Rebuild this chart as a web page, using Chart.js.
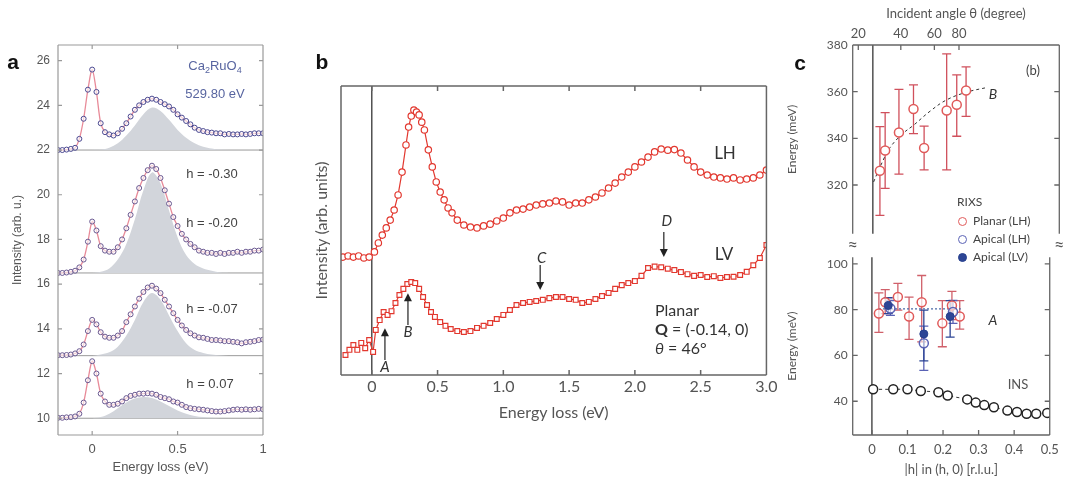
<!DOCTYPE html>
<html><head><meta charset="utf-8">
<script src="https://cdn.jsdelivr.net/npm/chart.js@4.4.1/dist/chart.umd.min.js"></script>
<style>
body{margin:0;background:#fff;width:1066px;height:487px;position:relative;overflow:hidden;font-family:"Liberation Sans",Arial,sans-serif}
.box{position:absolute}
.t{position:absolute;white-space:nowrap;line-height:1;transform:translate(-50%,-50%)}
.l{transform:translate(0,-50%)}
.lato{font-family:Lato,"Open Sans",sans-serif}
.mk{display:inline-block;width:7px;height:7px;border-radius:50%;border:1.5px solid;vertical-align:middle;margin-right:6px}
</style></head><body>
<div class="box" style="left:0;top:0;width:280px;height:487px"><canvas id="chartA"></canvas></div>
<div class="box" style="left:300px;top:0;width:480px;height:487px"><canvas id="chartB"></canvas></div>
<div class="box" style="left:780px;top:0;width:286px;height:246px"><canvas id="chartC1"></canvas></div>
<div class="box" style="left:780px;top:245px;width:286px;height:242px"><canvas id="chartC2"></canvas></div>
<div id="labels"></div>
<script>
// ---------- panel a: RIXS spectra, offset ----------
const energyA = [-0.2,-0.175,-0.15,-0.125,-0.1,-0.075,-0.05,-0.025,0,0.025,0.05,0.075,0.1,0.125,0.15,0.175,0.2,0.225,0.25,0.275,0.3,0.325,0.35,0.375,0.4,0.425,0.45,0.475,0.5,0.525,0.55,0.575,0.6,0.625,0.65,0.675,0.7,0.725,0.75,0.775,0.8,0.825,0.85,0.875,0.9,0.925,0.95,0.975,1.0];
const specTop = [22.0,22.0,22.02,22.05,22.1,22.5,23.4,24.7,25.6,24.6,23.2,22.8,22.7,22.65,22.75,22.95,23.2,23.5,23.8,24.0,24.15,24.25,24.3,24.25,24.15,24.05,23.95,23.8,23.6,23.45,23.3,23.15,23.0,22.9,22.85,22.8,22.78,22.75,22.75,22.7,22.72,22.7,22.7,22.72,22.7,22.72,22.75,22.75,22.75];
const specH020 = [16.5,16.5,16.52,16.55,16.6,16.75,17.1,17.9,18.8,18.4,17.7,17.5,17.45,17.45,17.65,18.0,18.5,19.1,19.7,20.3,20.75,21.1,21.3,21.15,20.75,20.2,19.6,19.0,18.6,18.25,18.0,17.8,17.65,17.5,17.45,17.4,17.4,17.35,17.4,17.35,17.4,17.4,17.45,17.4,17.45,17.45,17.5,17.5,17.55];
const specH007n = [12.82,12.82,12.83,12.85,12.9,13.0,13.3,13.9,14.4,14.2,13.85,13.65,13.6,13.6,13.7,13.9,14.3,14.65,15.0,15.35,15.65,15.85,15.93,15.8,15.6,15.3,15.0,14.7,14.4,14.15,13.95,13.8,13.7,13.62,13.6,13.55,13.5,13.5,13.48,13.45,13.45,13.42,13.4,13.35,13.4,13.42,13.45,13.5,13.52];
const specH007 = [10.02,10.02,10.04,10.05,10.08,10.2,10.7,11.7,12.55,12.0,11.1,10.75,10.6,10.6,10.65,10.75,10.9,11.0,11.05,11.1,11.1,11.12,11.1,11.05,10.95,10.9,10.85,10.75,10.7,10.6,10.5,10.45,10.42,10.4,10.38,10.35,10.32,10.3,10.3,10.32,10.35,10.38,10.4,10.38,10.4,10.38,10.4,10.42,10.4];
const fillEnergyA = [0,0.05,0.1,0.15,0.2,0.25,0.3,0.35,0.4,0.45,0.5,0.55,0.6,0.65,0.7,0.75,0.8];
const fillTop = [22.0,22.02,22.1,22.3,22.65,23.1,23.6,23.9,23.75,23.35,22.9,22.55,22.3,22.15,22.07,22.02,22.0];
const fillH020 = [16.5,16.55,16.7,17.1,17.8,18.9,20.2,21.0,20.5,19.3,18.1,17.3,16.9,16.7,16.6,16.52,16.5];
const fillH007n = [12.8,12.85,12.95,13.2,13.7,14.4,15.2,15.6,15.3,14.6,13.9,13.35,13.05,12.92,12.85,12.82,12.8];
const fillH007 = [10.0,10.05,10.2,10.45,10.7,10.88,10.95,10.9,10.75,10.55,10.35,10.2,10.1,10.05,10.02,10.0,10.0];
const baselinesA = [22, 16.5, 12.8, 10];
const yTicksA = [10,12,14,16,18,20,22,24,26];
const xTicksA = [0, 0.5, 1];
const xTickLabelsA = ['0','0.5','1'];

// ---------- panel b: LH / LV spectra ----------
const energyLH = [-0.22,-0.18,-0.14,-0.10,-0.06,-0.02,0.02,0.05,0.08,0.11,0.14,0.17,0.20,0.23,0.26,0.28,0.30,0.32,0.34,0.36,0.38,0.40,0.43,0.46,0.49,0.52,0.55,0.58,0.61,0.65,0.70,0.75,0.80,0.85,0.90,0.95,1.00,1.05,1.10,1.15,1.20,1.25,1.30,1.35,1.40,1.45,1.50,1.55,1.60,1.65,1.70,1.75,1.80,1.85,1.90,1.95,2.00,2.05,2.10,2.15,2.20,2.25,2.30,2.35,2.40,2.45,2.50,2.55,2.60,2.65,2.70,2.75,2.80,2.85,2.90,2.95,3.00];
const intensityLH = [40.8,41.2,40.8,41.2,40.5,40.8,42.6,45.7,48.4,50.9,53.6,57.1,62.3,70.2,79.6,85.8,89.6,91.7,91.0,90.0,87.5,84.8,77.9,72.0,66.8,63.3,60.6,57.8,56.1,53.6,51.9,51.2,50.9,51.6,52.2,53.3,54.3,56.1,57.1,57.4,58.1,58.8,59.2,59.5,60.2,59.9,58.8,59.5,59.5,60.6,61.6,63.0,64.7,66.4,68.5,70.2,72.0,73.7,75.4,77.2,78.2,77.8,78.0,76.8,74.4,72.0,70.2,69.2,68.5,68.2,67.8,68.2,67.5,67.8,68.2,69.2,70.9];
const energyLV = [-0.20,-0.17,-0.14,-0.11,-0.08,-0.05,-0.02,0.01,0.03,0.06,0.09,0.12,0.15,0.18,0.21,0.24,0.27,0.30,0.33,0.36,0.39,0.42,0.45,0.48,0.52,0.56,0.60,0.65,0.70,0.75,0.80,0.85,0.90,0.95,1.00,1.05,1.10,1.15,1.20,1.25,1.30,1.35,1.40,1.45,1.50,1.55,1.60,1.65,1.70,1.75,1.80,1.85,1.90,1.95,2.00,2.05,2.10,2.15,2.20,2.25,2.30,2.35,2.40,2.45,2.50,2.55,2.60,2.65,2.70,2.75,2.80,2.85,2.90,2.95,3.00];
const intensityLV = [6.9,8.7,10.4,8.7,11.1,9.3,12.1,8.0,15.6,19.0,21.8,20.8,22.1,24.9,27.7,29.8,31.5,32.2,31.8,29.8,27.0,24.2,21.8,20.1,18.3,17.0,15.9,15.2,14.9,15.2,16.3,17.0,18.0,19.4,20.8,22.5,24.2,24.9,25.3,25.6,26.0,26.6,27.0,27.0,26.3,26.0,24.9,25.3,26.3,27.3,28.4,29.8,31.1,31.8,32.5,34.3,37.0,37.5,37.3,36.8,36.3,35.6,34.9,34.3,34.6,33.9,34.2,33.6,33.9,34.0,34.6,35.7,38.0,40.5,45.0];
const xTicksB = [0,0.5,1,1.5,2,2.5,3];
const xTickLabelsB = ['0','0.5','1.0','1.5','2.0','2.5','3.0'];
const arrowsB = [
  {x: 0.1, from: 5.2, to: 16.2},
  {x: 0.275, from: 17.3, to: 28.3},
  {x: 1.28, from: 38.1, to: 29.4},
  {x: 2.22, from: 49.5, to: 40.8}
];

// ---------- panel c: dispersion ----------
const hB = [0.019,0.033,0.07,0.109,0.1375,0.198,0.225,0.25];
const energyB = [326.1,334.8,342.5,352.6,335.9,351.9,354.4,360.5];
const energyBLo = [307,318.6,324.7,342,326.5,326.5,340.9,349.4];
const energyBHi = [345,351,361,362.9,345.2,376.2,367.2,370.6];
const hFitB = [0.002,0.02,0.046,0.08,0.109,0.154,0.198,0.252,0.306];
const energyFitB = [321.3,328,336,342,345.6,351.7,356.5,359.8,361.8];

const hPlanarA = [0.0196,0.0375,0.073,0.1045,0.14,0.198,0.225,0.247];
const energyPlanarA = [78.3,83.2,85.5,77.0,83.2,74.0,81.8,77.0];
const energyPlanarALo = [70.1,78.3,79.8,67.0,65.9,63.8,75.6,71.5];
const energyPlanarAHi = [87.3,88.7,91.5,85.5,94.9,83.9,88.0,83.9];
const hApicalLV = [0.046,0.146,0.22];
const energyApicalLV = [81.8,69.4,77.0];
const energyApicalLVLo = [78.3,57.6,68.0];
const energyApicalLVHi = [85.2,79.8,83.9];
const hApicalLH = [0.052,0.146,0.228];
const energyApicalLH = [80.5,65.3,79.0];
const energyApicalLHLo = [77.5,53.5,74.0];
const energyApicalLHHi = [84.0,72.8,84.0];
const hFitA = [0.02,0.25];
const energyFitA = [80.3,80.3];
const hINS = [0.0035,0.06,0.1,0.1375,0.187,0.213,0.268,0.292,0.316,0.343,0.381,0.408,0.435,0.462,0.493];
const energyINS = [45.2,45.2,45.2,44.5,43.9,42.5,40.8,39.4,38.3,37.4,35.9,35.3,34.5,34.5,34.9];

const yTicksCUp = [320,340,360,380];
const yTicksCLow = [40,60,80,100];
const xTicksC = [0,0.1,0.2,0.3,0.4,0.5];
const angleTickPos = [-0.039,0.075,0.165,0.231];
const angleTickLabels = ['20','40','60','80'];

const toXY = (xs, ys) => xs.map((x, i) => ({x, y: ys[i]}));
const setTicks = vals => s => { s.ticks = vals.map(v => ({value: v})); };
const fixSize = n => s => { if (s.isHorizontal()) s.height = n; else s.width = n; };

// frame, inward ticks, baselines, zero line, error bars and arrows
const framePlugin = {
  id: 'frame',
  beforeDatasetsDraw(chart, args, o) {
    const {ctx, chartArea: a, scales} = chart;
    ctx.save();
    (o.hLines || []).forEach(v => {
      const py = scales.y.getPixelForValue(v);
      ctx.strokeStyle = o.hLineColor; ctx.lineWidth = 1;
      ctx.beginPath(); ctx.moveTo(a.left, py); ctx.lineTo(a.right, py); ctx.stroke();
    });
    if (o.zeroLine) {
      const px = scales.x.getPixelForValue(0);
      ctx.strokeStyle = o.zeroLine; ctx.lineWidth = 1.4;
      ctx.beginPath(); ctx.moveTo(px, a.top); ctx.lineTo(px, a.bottom); ctx.stroke();
    }
    chart.data.datasets.forEach(ds => {
      if (!ds.errLo) return;
      ctx.strokeStyle = ds.errColor; ctx.lineWidth = 1.3;
      ds.data.forEach((p, j) => {
        const px = scales.x.getPixelForValue(p.x);
        const lo = scales.y.getPixelForValue(ds.errLo[j]);
        const hi = scales.y.getPixelForValue(ds.errHi[j]);
        ctx.beginPath();
        ctx.moveTo(px, lo); ctx.lineTo(px, hi);
        ctx.moveTo(px - 4.5, lo); ctx.lineTo(px + 4.5, lo);
        ctx.moveTo(px - 4.5, hi); ctx.lineTo(px + 4.5, hi);
        ctx.stroke();
      });
    });
    ctx.restore();
  },
  afterDraw(chart, args, o) {
    const {ctx, chartArea: a, scales} = chart;
    ctx.save();
    ctx.strokeStyle = o.color; ctx.lineWidth = o.width;
    const s = o.sides;
    ctx.beginPath();
    if (s.includes('t')) { ctx.moveTo(a.left, a.top); ctx.lineTo(a.right, a.top); }
    if (s.includes('b')) { ctx.moveTo(a.left, a.bottom); ctx.lineTo(a.right, a.bottom); }
    if (s.includes('l')) { ctx.moveTo(a.left, a.top); ctx.lineTo(a.left, a.bottom); }
    if (s.includes('r')) { ctx.moveTo(a.right, a.top); ctx.lineTo(a.right, a.bottom); }
    const len = o.tickLen;
    scales.x.ticks.forEach(t => {
      const px = scales.x.getPixelForValue(t.value);
      if (o.xTicks.includes('b')) { ctx.moveTo(px, a.bottom); ctx.lineTo(px, a.bottom - len); }
      if (o.xTicks.includes('t')) { ctx.moveTo(px, a.top); ctx.lineTo(px, a.top + len); }
    });
    scales.y.ticks.forEach(t => {
      const py = scales.y.getPixelForValue(t.value);
      if (o.yTicks.includes('l')) { ctx.moveTo(a.left, py); ctx.lineTo(a.left + len, py); }
      if (o.yTicks.includes('r')) { ctx.moveTo(a.right, py); ctx.lineTo(a.right - len, py); }
    });
    ctx.stroke();
    (o.arrows || []).forEach(ar => {
      const px = scales.x.getPixelForValue(ar.x);
      const p0 = scales.y.getPixelForValue(ar.from);
      const p1 = scales.y.getPixelForValue(ar.to);
      const dir = p1 < p0 ? -1 : 1;
      ctx.strokeStyle = '#222'; ctx.fillStyle = '#222'; ctx.lineWidth = 1.2;
      ctx.beginPath(); ctx.moveTo(px, p0); ctx.lineTo(px, p1 - dir * 6); ctx.stroke();
      ctx.beginPath(); ctx.moveTo(px, p1); ctx.lineTo(px - 4, p1 - dir * 8); ctx.lineTo(px + 4, p1 - dir * 8); ctx.closePath(); ctx.fill();
    });
    ctx.restore();
  }
};

Chart.defaults.animation = false;
Chart.defaults.plugins.legend.display = false;
Chart.defaults.plugins.tooltip.enabled = false;

// panel a
const specsA = [specTop, specH020, specH007n, specH007];
const fillsA = [fillTop, fillH020, fillH007n, fillH007];
const dsA = [];
specsA.forEach((sp, k) => {
  dsA.push({data: toXY(energyA, sp), borderColor: '#e88a98', borderWidth: 1.3, tension: 0.3,
    pointRadius: 2.5, pointBorderWidth: 1, pointBorderColor: k === 0 ? '#4b4890' : '#6a5890',
    pointBackgroundColor: 'rgba(255,255,255,0.6)', order: 1});
  dsA.push({data: toXY(fillEnergyA, fillsA[k]), borderWidth: 0, pointRadius: 0, tension: 0.35,
    fill: {value: baselinesA[k]}, backgroundColor: '#d2d5db', order: 2});
});
const fontA = {family: '"Liberation Sans", Arial, sans-serif', size: 12};
new Chart(document.getElementById('chartA'), {
  type: 'line',
  data: {datasets: dsA},
  options: {
    responsive: true, maintainAspectRatio: false,
    layout: {padding: {left: 0, right: 17, top: 45, bottom: 12}},
    scales: {
      x: {type: 'linear', min: -0.2, max: 1, afterBuildTicks: setTicks(xTicksA), afterFit: fixSize(40),
        grid: {display: false, drawTicks: false}, border: {display: false},
        ticks: {padding: 7, color: '#555', font: {...fontA, size: 13}, callback: (v, i) => xTickLabelsA[i]},
        title: {display: true, text: 'Energy loss (eV)', color: '#555', font: {...fontA, size: 13}, padding: 0}},
      y: {min: 9.25, max: 26.7, afterBuildTicks: setTicks(yTicksA), afterFit: fixSize(58),
        grid: {display: false, drawTicks: false}, border: {display: false},
        ticks: {padding: 8, color: '#555', font: fontA},
        title: {display: true, text: 'Intensity (arb. u.)', color: '#555', font: fontA, padding: {top: 10, bottom: 0}}}
    },
    plugins: {frame: {color: '#9a9a9a', width: 1.2, sides: 'tblr', tickLen: 4, xTicks: 'tb', yTicks: 'lr',
      hLines: baselinesA, hLineColor: '#999'}}
  },
  plugins: [framePlugin]
});

// panel b
const fontB = {family: 'Lato, "Open Sans", sans-serif', size: 16};
new Chart(document.getElementById('chartB'), {
  type: 'line',
  data: {datasets: [
    {data: toXY(energyLH, intensityLH), borderColor: '#e2382f', borderWidth: 1.2, pointRadius: 3.2,
      pointBorderWidth: 1.2, pointBackgroundColor: '#fff', pointBorderColor: '#e2382f'},
    {data: toXY(energyLV, intensityLV), borderColor: '#e2382f', borderWidth: 1.2, pointRadius: 3.4, pointStyle: 'rect',
      pointBorderWidth: 1.2, pointBackgroundColor: '#fff', pointBorderColor: '#e2382f'}
  ]},
  options: {
    responsive: true, maintainAspectRatio: false,
    layout: {padding: {left: 12.4, right: 10, top: 86, bottom: 64.4}},
    scales: {
      x: {type: 'linear', min: -0.234, max: 3.0, afterBuildTicks: setTicks(xTicksB), afterFit: fixSize(47.6),
        grid: {display: false, drawTicks: false}, border: {display: false},
        ticks: {padding: 2.4, color: '#555', font: fontB, callback: (v, i) => xTickLabelsB[i]},
        title: {display: true, text: 'Energy loss (eV)', color: '#555', font: fontB, padding: 0}},
      y: {min: 0, max: 100, afterFit: fixSize(28.6),
        grid: {display: false, drawTicks: false}, border: {display: false},
        ticks: {display: false},
        title: {display: true, text: 'Intensity (arb. units)', color: '#555', font: fontB, padding: 0}}
    },
    plugins: {frame: {color: '#666', width: 1.5, sides: 'tblr', tickLen: 5, xTicks: 'tb', yTicks: '',
      zeroLine: '#444', arrows: arrowsB}}
  },
  plugins: [framePlugin]
});

// panel c, upper part (mode B)
const fontC = {family: 'Lato, "Open Sans", sans-serif', size: 13};
new Chart(document.getElementById('chartC1'), {
  type: 'line',
  data: {datasets: [
    {data: toXY(hB, energyB), showLine: false, pointRadius: 4.5, pointBorderWidth: 1.5,
      pointBorderColor: '#e05a5a', pointBackgroundColor: '#fff',
      errLo: energyBLo, errHi: energyBHi, errColor: '#d0505c', order: 1},
    {data: toXY(hFitB, energyFitB), borderColor: '#333', borderWidth: 1, borderDash: [3, 3], pointRadius: 0,
      tension: 0.4, order: 2}
  ]},
  options: {
    responsive: true, maintainAspectRatio: false,
    layout: {padding: {left: 0, right: 6.7, top: 0, bottom: 1}},
    scales: {
      x: {type: 'linear', position: 'top', min: -0.054, max: 0.5, afterBuildTicks: setTicks(angleTickPos), afterFit: fixSize(45),
        grid: {display: false, drawTicks: false}, border: {display: false},
        ticks: {padding: 3.5, color: '#555', font: fontC, callback: (v, i) => angleTickLabels[i]},
        title: {display: true, text: 'Incident angle θ (degree)', color: '#555', font: fontC, padding: {top: 6.2, bottom: 0}}},
      y: {min: 299.1, max: 380, afterBuildTicks: setTicks(yTicksCUp), afterFit: fixSize(72.7),
        grid: {display: false, drawTicks: false}, border: {display: false},
        ticks: {padding: 5, color: '#555', font: {...fontC, size: 12}},
        title: {display: true, text: 'Energy (meV)', color: '#555', font: {...fontC, size: 12}, padding: {top: 4.8, bottom: 0}}}
    },
    plugins: {frame: {color: '#666', width: 1.3, sides: 'tlr', tickLen: 5, xTicks: 't', yTicks: 'lr', zeroLine: '#444'}}
  },
  plugins: [framePlugin]
});

// panel c, lower part (mode A and INS)
new Chart(document.getElementById('chartC2'), {
  type: 'line',
  data: {datasets: [
    {data: toXY(hPlanarA, energyPlanarA), showLine: false, pointRadius: 4.5, pointBorderWidth: 1.5,
      pointBorderColor: '#e05a5a', pointBackgroundColor: 'rgba(255,255,255,0.7)',
      errLo: energyPlanarALo, errHi: energyPlanarAHi, errColor: '#d0606a', order: 2},
    {data: toXY(hApicalLH, energyApicalLH), showLine: false, pointRadius: 4.5, pointBorderWidth: 1.5,
      pointBorderColor: '#5a62b5', pointBackgroundColor: 'rgba(255,255,255,0.6)',
      errLo: energyApicalLHLo, errHi: energyApicalLHHi, errColor: '#5a62b5', order: 1},
    {data: toXY(hApicalLV, energyApicalLV), showLine: false, pointRadius: 4, pointBorderWidth: 1,
      pointBorderColor: '#263f8e', pointBackgroundColor: '#2d4595',
      errLo: energyApicalLVLo, errHi: energyApicalLVHi, errColor: '#2d4595', order: 0},
    {data: toXY(hFitA, energyFitA), borderColor: '#4a6aa8', borderWidth: 1.2, borderDash: [2, 2], pointRadius: 0, order: 3},
    {data: toXY(hINS, energyINS), borderColor: '#333', borderWidth: 1, borderDash: [3, 3], tension: 0.3,
      pointRadius: 4.5, pointBorderWidth: 1.5, pointBorderColor: '#222', pointBackgroundColor: '#fff', order: 4}
  ]},
  options: {
    responsive: true, maintainAspectRatio: false,
    layout: {padding: {left: 0, right: 6.7, top: 2, bottom: 9.2}},
    scales: {
      x: {type: 'linear', min: -0.054, max: 0.5, afterBuildTicks: setTicks(xTicksC), afterFit: fixSize(42.8),
        grid: {display: false, drawTicks: false}, border: {display: false},
        ticks: {padding: 7.2, color: '#555', font: fontC},
        title: {display: true, text: '|h| in (h, 0) [r.l.u.]', color: '#555', font: fontC, padding: 0}},
      y: {min: 25.25, max: 102.9, afterBuildTicks: setTicks(yTicksCLow), afterFit: fixSize(72.7),
        grid: {display: false, drawTicks: false}, border: {display: false},
        ticks: {padding: 5, color: '#555', font: {...fontC, size: 12}},
        title: {display: true, text: 'Energy (meV)', color: '#555', font: {...fontC, size: 12}, padding: {top: 4.8, bottom: 0}}}
    },
    plugins: {frame: {color: '#666', width: 1.3, sides: 'blr', tickLen: 5, xTicks: 'b', yTicks: 'lr', zeroLine: '#444'}}
  },
  plugins: [framePlugin]
});

// text annotations
const labels = [
  ['a', 13, 62, 'font:bold 21px Arial,sans-serif;color:#111'],
  ['b', 322, 62, 'font:bold 21px Arial,sans-serif;color:#111'],
  ['c', 800, 63, 'font:bold 21px Arial,sans-serif;color:#111'],
  ['Ca<sub style="font-size:9px">2</sub>RuO<sub style="font-size:9px">4</sub>', 215, 67, 'font-size:13px;color:#5865a0'],
  ['529.80 eV', 215, 93, 'font-size:13px;color:#5865a0'],
  ['h = -0.30', 212, 173, 'font-size:13px;color:#444'],
  ['h = -0.20', 212, 222, 'font-size:13px;color:#444'],
  ['h = -0.07', 212, 308, 'font-size:13px;color:#444'],
  ['h = 0.07', 210, 383, 'font-size:13px;color:#444'],
  ['LH', 725, 152, 'font-size:17px;color:#333', 'lato'],
  ['LV', 724, 253, 'font-size:17px;color:#333', 'lato'],
  ['A', 385, 366, 'font-size:15px;font-style:italic;color:#333', 'lato'],
  ['B', 408, 331, 'font-size:15px;font-style:italic;color:#333', 'lato'],
  ['C', 541.7, 257, 'font-size:15px;font-style:italic;color:#333', 'lato'],
  ['D', 666.7, 220, 'font-size:15px;font-style:italic;color:#333', 'lato'],
  ['(b)', 1033, 70, 'font-size:13px;color:#444', 'lato'],
  ['B', 993, 94, 'font-size:14px;font-style:italic;color:#333', 'lato'],
  ['A', 993, 320, 'font-size:14px;font-style:italic;color:#333', 'lato'],
  ['INS', 1018, 384, 'font-size:13px;color:#555', 'lato'],
  ['≈', 852.7, 244, 'font-size:18px;color:#555;background:#fff;padding:0 1px', 'lato'],
  ['≈', 1059.3, 244, 'font-size:18px;color:#555;background:#fff;padding:0 1px', 'lato']
];
const leftLabels = [
  ['Planar', 655, 310, 'font-size:16px;color:#333'],
  ['<b>Q</b> = (-0.14, 0)', 655, 329, 'font-size:16px;color:#333'],
  ['<i>θ</i> = 46°', 655, 348, 'font-size:16px;color:#333'],
  ['RIXS', 957, 202, 'font-size:12px;color:#444'],
  ['<span class="mk" style="border-color:#e05a5a"></span>Planar (LH)', 958, 221, 'font-size:12px;color:#444'],
  ['<span class="mk" style="border-color:#5a62b5"></span>Apical (LH)', 958, 239, 'font-size:12px;color:#444'],
  ['<span class="mk" style="border-color:#263f8e;background:#2d4595"></span>Apical (LV)', 958, 257, 'font-size:12px;color:#444']
];
const host = document.getElementById('labels');
labels.forEach(([txt, x, y, css, cls]) => {
  const d = document.createElement('div');
  d.className = 't' + (cls ? ' ' + cls : '');
  d.style.cssText = `left:${x}px;top:${y}px;${css}`;
  d.innerHTML = txt;
  host.appendChild(d);
});
leftLabels.forEach(([txt, x, y, css]) => {
  const d = document.createElement('div');
  d.className = 't l lato';
  d.style.cssText = `left:${x}px;top:${y}px;${css}`;
  d.innerHTML = txt;
  host.appendChild(d);
});
</script>
</body></html>
